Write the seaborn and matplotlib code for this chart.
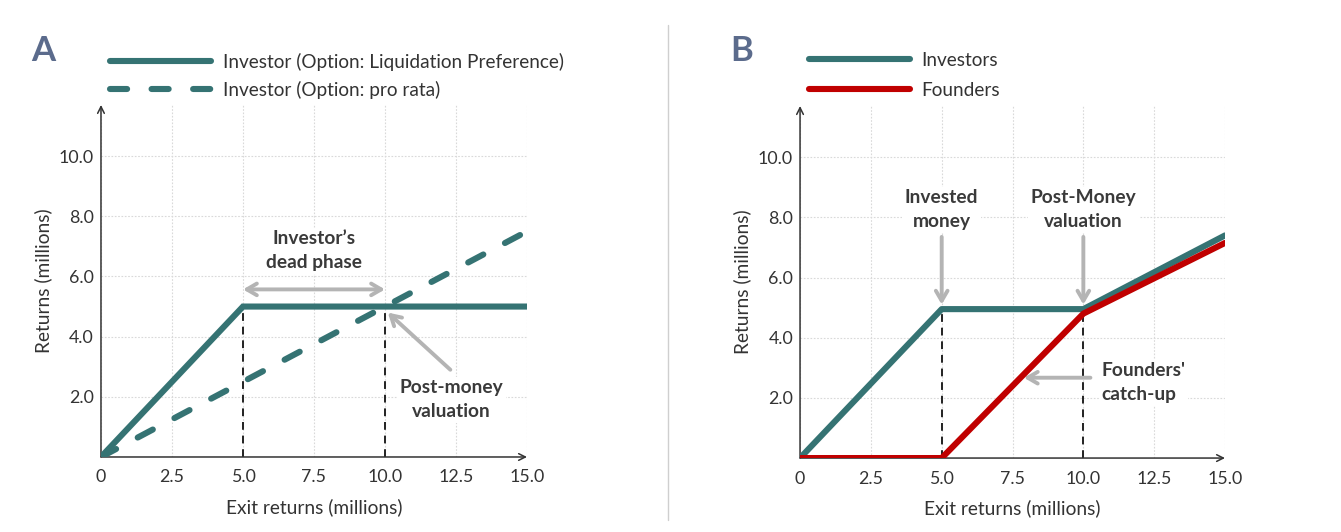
import matplotlib
matplotlib.use("Agg")
import matplotlib.pyplot as plt
from matplotlib.lines import Line2D
import seaborn as sns

# --- data (millions) ---
exit_ticks = [0, 2.5, 5, 7.5, 10, 12.5, 15]
exit_tick_labels = ["0", "2.5", "5.0", "7.5", "10.0", "12.5", "15.0"]
ret_ticks = [2, 4, 6, 8, 10]
ret_tick_labels = ["2.0", "4.0", "6.0", "8.0", "10.0"]

# panel A
liq_pref_x = [0, 5, 15]
liq_pref_y = [0, 5, 5]
pro_rata_x = [0, 15]
pro_rata_y = [0, 7.5]
marks_a_x = [5, 10]
marks_a_y = [5, 5]

# panel B
investors_x = [0, 5, 10, 15]
investors_y = [0, 4.95, 4.95, 7.4]
founders_x = [0, 5, 10, 15]
founders_y = [0, 0, 4.8, 7.15]
marks_b_x = [5, 10]
marks_b_y = [4.95, 4.8]

TEAL = "#357373"
RED = "#c00000"
GREY = "#b4b4b4"
TXT = "#333333"
LW = 4.4

sns.set_theme(style="white")
plt.rcParams["font.family"] = ["Lato", "DejaVu Sans"]

fig = plt.figure(figsize=(13.41, 5.32), dpi=100)
ax_a = fig.add_axes([0.0753, 0.141, 0.3177, 0.6617])
ax_b = fig.add_axes([0.5966, 0.139, 0.3169, 0.6617])


def style_axes(ax):
    ax.set_xlim(0, 15)
    ax.set_ylim(0, 11.7)
    ax.set_xticks(exit_ticks)
    ax.set_xticklabels(exit_tick_labels)
    ax.set_yticks(ret_ticks)
    ax.set_yticklabels(ret_tick_labels)
    ax.tick_params(length=0, labelsize=12.8, colors=TXT)
    ax.tick_params(axis="x", pad=9)
    ax.tick_params(axis="y", pad=5)
    ax.grid(True, color="#d9d9d9", lw=0.8, ls=(0, (1.5, 1.5)))
    for s in ax.spines.values():
        s.set_visible(False)
    ax.annotate("", xy=(0, 1), xytext=(0, 0), xycoords="axes fraction",
                arrowprops=dict(arrowstyle="->", color=TXT, lw=1.1, shrinkA=0, shrinkB=0))
    ax.annotate("", xy=(1, 0), xytext=(0, 0), xycoords="axes fraction",
                arrowprops=dict(arrowstyle="->", color=TXT, lw=1.1, shrinkA=0, shrinkB=0))
    ax.set_xlabel("Exit returns (millions)", fontsize=13.8, color=TXT, labelpad=9)
    ax.set_ylabel("Returns (millions)", fontsize=13.8, color=TXT, labelpad=5)


def grey_arrow(ax, start, end, style="->"):
    ax.annotate("", xy=end, xytext=start,
                arrowprops=dict(arrowstyle=style + ",head_length=0.6,head_width=0.35",
                                color=GREY, lw=2.8, shrinkA=0, shrinkB=0))


bold = dict(fontsize=13.8, fontweight="bold", color="#3a3a3a", linespacing=1.5)

# ---------- panel A ----------
style_axes(ax_a)
for x, y in zip(marks_a_x, marks_a_y):
    ax_a.plot([x, x], [0, y], color="#222222", lw=1.4, ls=(0, (4, 3)), zorder=2)
sns.lineplot(x=pro_rata_x, y=pro_rata_y, ax=ax_a, color=TEAL, lw=LW,
             linestyle=(0, (2.8, 4.0)), dash_capstyle="round", zorder=3)
sns.lineplot(x=liq_pref_x, y=liq_pref_y, ax=ax_a, color=TEAL, lw=LW,
             solid_capstyle="round", solid_joinstyle="miter", zorder=4)
grey_arrow(ax_a, (5.0, 5.57), (10.0, 5.57), style="<->")
grey_arrow(ax_a, (12.3, 2.9), (10.1, 4.8))
ax_a.text(7.5, 6.85, "Investor\u2019s\ndead phase", ha="center", va="center",
          bbox=dict(fc="white", ec="none", pad=2), **bold)
ax_a.text(12.35, 1.9, "Post-money\nvaluation", ha="center", va="center",
          bbox=dict(fc="white", ec="none", pad=2), **bold)

# ---------- panel B ----------
style_axes(ax_b)
for x, y in zip(marks_b_x, marks_b_y):
    ax_b.plot([x, x], [0, y], color="#222222", lw=1.4, ls=(0, (4, 3)), zorder=2)
sns.lineplot(x=investors_x, y=investors_y, ax=ax_b, color=TEAL, lw=LW,
             solid_capstyle="round", zorder=3)
sns.lineplot(x=founders_x, y=founders_y, ax=ax_b, color=RED, lw=LW,
             solid_capstyle="round", zorder=4)
grey_arrow(ax_b, (5, 7.35), (5, 5.1))
grey_arrow(ax_b, (10, 7.35), (10, 5.1))
grey_arrow(ax_b, (10.25, 2.67), (7.9, 2.67))
ax_b.text(5, 8.25, "Invested\nmoney", ha="center", va="center",
          bbox=dict(fc="white", ec="none", pad=2), **bold)
ax_b.text(10, 8.25, "Post-Money\nvaluation", ha="center", va="center",
          bbox=dict(fc="white", ec="none", pad=2), **bold)
ax_b.text(10.65, 2.5, "Founders'\ncatch-up", ha="left", va="center",
          bbox=dict(fc="white", ec="none", pad=2), **bold)

# ---------- legends ----------
leg_kw = dict(loc="upper left", bbox_transform=fig.transFigure, frameon=False,
              borderpad=0, handlelength=5.3, handletextpad=0.6,
              prop={"size": 13.7}, labelcolor=TXT)
h_a = [Line2D([], [], color=TEAL, lw=LW, solid_capstyle="round"),
       Line2D([], [], color=TEAL, lw=LW, ls=(0, (2.8, 4.0)), dash_capstyle="round")]
ax_a.legend(h_a, ["Investor (Option: Liquidation Preference)", "Investor (Option: pro rata)"],
            bbox_to_anchor=(0.0753, 0.919), labelspacing=0.52, **leg_kw)
h_b = [Line2D([], [], color=TEAL, lw=LW, solid_capstyle="round"),
       Line2D([], [], color=RED, lw=LW, solid_capstyle="round")]
ax_b.legend(h_b, ["Investors", "Founders"], bbox_to_anchor=(0.596, 0.921),
            labelspacing=0.7, **leg_kw)

# panel letters and divider
fig.text(0.032, 0.905, "A", fontsize=25, fontweight="bold", color="#5b6b8c", ha="center", va="center")
fig.text(0.553, 0.905, "B", fontsize=25, fontweight="bold", color="#5b6b8c", ha="center", va="center")
fig.add_artist(Line2D([0.498, 0.498], [0.023, 0.953], color="#cfcfcf", lw=1))

fig.savefig("out.png", dpi=100, facecolor="white")
